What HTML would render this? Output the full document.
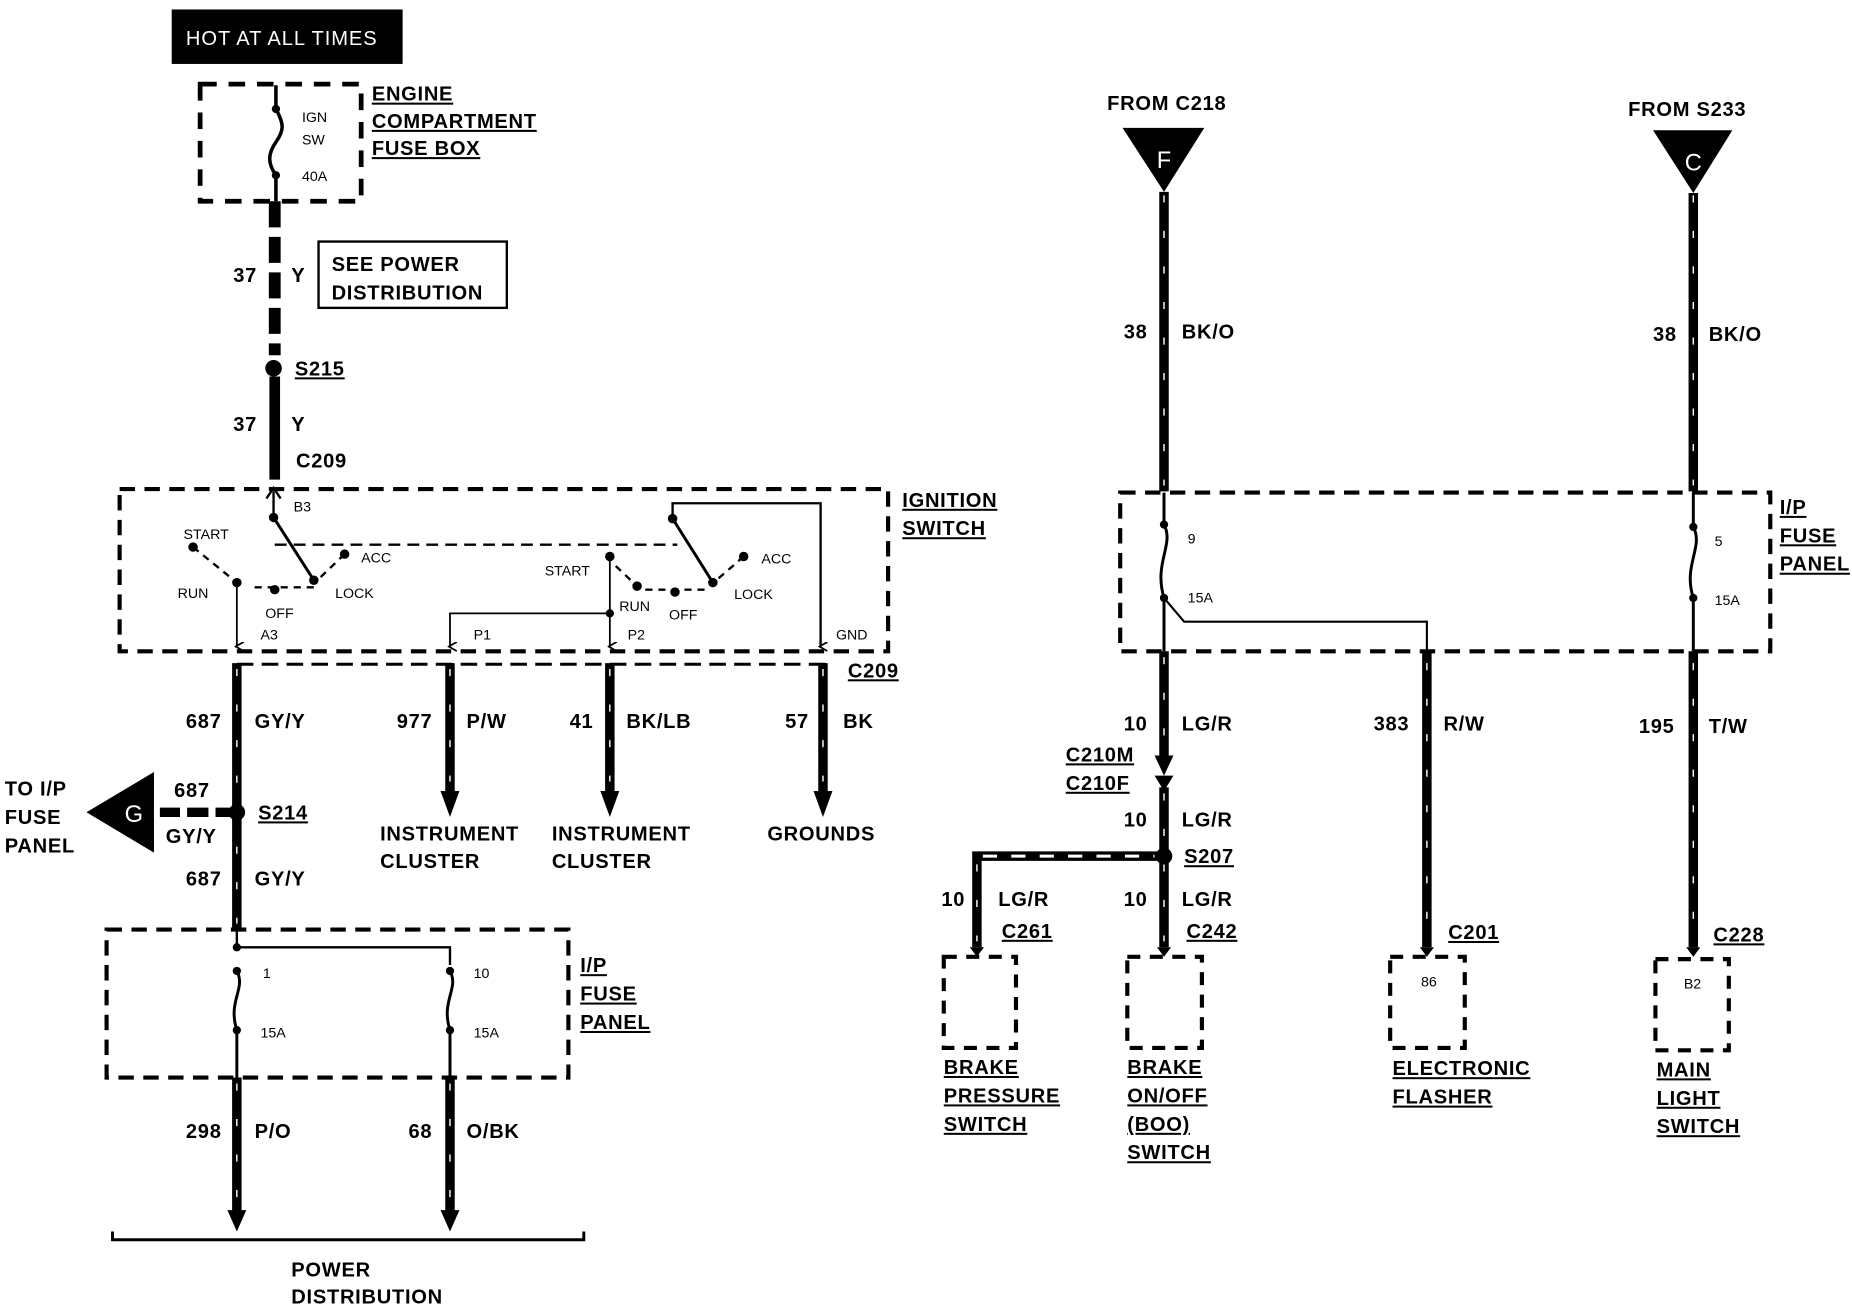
<!DOCTYPE html>
<html><head><meta charset="utf-8"><style>
html,body{margin:0;padding:0;background:#fff;}
svg{display:block;}
text{font-family:"Liberation Sans",Arial,sans-serif;fill:#000;}
.b{font-weight:bold;font-size:17px;letter-spacing:0.6px;}
.s{font-size:12px;}
.u{text-decoration:underline;}
</style></head><body>
<svg width="1852" height="1312" viewBox="0 0 1564 1108" xmlns="http://www.w3.org/2000/svg">
<defs>
<marker id="ah" markerWidth="8" markerHeight="8" refX="4" refY="6" orient="auto" markerUnits="userSpaceOnUse"><path d="M0,0 L4,7 L8,0" fill="none" stroke="#000" stroke-width="1.5"/></marker>
</defs>
<g fill="none" stroke="#000">
<rect x="169" y="71" width="136" height="99" stroke-width="4" stroke-dasharray="14 10"/>
<rect x="101" y="413" width="649" height="137" stroke-width="3.5" stroke-dasharray="13 8"/>
<rect x="90" y="785" width="390" height="125" stroke-width="3.5" stroke-dasharray="13 8"/>
<rect x="946" y="416" width="549" height="134" stroke-width="3.5" stroke-dasharray="13 8"/>
<rect x="797" y="808" width="61" height="77" stroke-width="3.5" stroke-dasharray="11 8"/>
<rect x="952" y="808" width="63" height="77" stroke-width="3.5" stroke-dasharray="11 8"/>
<rect x="1174" y="808" width="63" height="77" stroke-width="3.5" stroke-dasharray="11 8"/>
<rect x="1398" y="810" width="62" height="77" stroke-width="3.5" stroke-dasharray="11 8"/>
<rect x="269" y="204" width="159" height="56" stroke-width="2"/>
<path d="M233,72 V92 C240,105 240,110 233,120 C226,130 226,138 233,148 V170" stroke-width="3"/>
<path d="M232,170 V300" stroke-width="10" stroke-dasharray="22 8"/>
<path d="M232,318 V405" stroke-width="9"/>
<path d="M231,437 V415" stroke-width="2"/>
<path d="M225,421 L231,412 L237,421" stroke-width="2"/>
<path d="M231,437 L265,490" stroke-width="2.5"/>
<path d="M232,460 H572" stroke-width="2" stroke-dasharray="10 6"/>
<path d="M200,492 V546" stroke-width="1.5" marker-end="url(#ah)"/>
<path d="M163,462 L200,492 M291,468 L268,490 M215,496 L265,496" stroke-width="2" stroke-dasharray="6 5"/>
<path d="M568,438 V425 H693 V546" stroke-width="2" marker-end="url(#ah)"/>
<path d="M568,438 L602,492" stroke-width="2.5"/>
<path d="M515,470 V546" stroke-width="1.5" marker-end="url(#ah)"/>
<path d="M515,518 H380 V546" stroke-width="1.5" marker-end="url(#ah)"/>
<path d="M520,478 L538,495 M628,470 L605,490 M545,498 L600,498" stroke-width="2" stroke-dasharray="6 5"/>
<path d="M200,561 H700" stroke-width="2.5" stroke-dasharray="14 7"/>
<path d="M200,560 V785 M380,560 V670 M515,560 V670 M695,560 V670" stroke-width="8"/>
<path d="M200,910 V1025 M380,910 V1025" stroke-width="8"/>
<path d="M200,785 V800 H380 V815" stroke-width="2"/>
<path d="M200,820 C208,835 192,845 200,870 M380,820 C388,835 372,845 380,870" stroke-width="2.5"/>
<path d="M200,870 V910 M380,870 V910" stroke-width="2.5"/>
<path d="M200,686 H135" stroke-width="8" stroke-dasharray="18 6"/>
<path d="M95,1040 V1047 H493 V1040" stroke-width="2.5"/>
<path d="M983,162 V415 M1430,163 V415" stroke-width="8"/>
<path d="M983,416 V443 M983,505 V550 M1430,416 V445 M1430,505 V550" stroke-width="2.5"/>
<path d="M983,443 C992,460 974,475 983,505 M1430,445 C1439,462 1421,477 1430,505" stroke-width="2.5"/>
<path d="M983,505 L1000,525 H1205 V550" stroke-width="1.8"/>
<path d="M983,550 V640 M983,665 V800 M1205,550 V800 M1430,550 V800" stroke-width="8"/>
<path d="M983,723 H825 V800" stroke-width="8"/>
</g>
<g stroke="#fff" stroke-width="1.2" fill="none">
<path d="M983,165 V410 M1430,165 V410 M983,555 V640 M983,670 V715 M983,730 V795 M1205,560 V795 M1430,560 V795 M200,565 V780 M380,565 V660 M515,565 V660 M695,565 V660 M200,915 V1015 M380,915 V1015 M825,730 V795" stroke-dasharray="6 24"/>
<path d="M830,723 H975" stroke-width="2.5" stroke-dasharray="12 12"/>
</g>
<g fill="#000">
<polygon points="372,668 388,668 380,690"/>
<polygon points="507,668 523,668 515,690"/>
<polygon points="687,668 703,668 695,690"/>
<polygon points="192,1022 208,1022 200,1040"/>
<polygon points="372,1022 388,1022 380,1040"/>
<polygon points="975,638 991,638 983,655"/>
<polygon points="975,655 991,655 983,668"/>
<polygon points="948,108 1017,108 983,162"/>
<polygon points="1396,110 1463,110 1430,163"/>
<polygon points="73,686 130,652 130,720"/>
<circle cx="231" cy="311" r="7"/><circle cx="200" cy="686" r="7"/><circle cx="983" cy="723" r="7"/>
<circle cx="233" cy="92" r="3.5"/><circle cx="233" cy="148" r="3.5"/>
<circle cx="231" cy="437" r="4"/><circle cx="163" cy="462" r="4"/><circle cx="291" cy="468" r="4"/><circle cx="200" cy="492" r="4"/><circle cx="232" cy="498" r="4"/><circle cx="265" cy="490" r="4"/>
<circle cx="568" cy="438" r="4"/><circle cx="515" cy="470" r="4"/><circle cx="628" cy="470" r="4"/><circle cx="538" cy="495" r="4"/><circle cx="570" cy="500" r="4"/><circle cx="602" cy="492" r="4"/><circle cx="515" cy="518" r="3.5"/>
<circle cx="200" cy="800" r="3.5"/><circle cx="200" cy="820" r="3.5"/><circle cx="200" cy="870" r="3.5"/><circle cx="380" cy="820" r="3.5"/><circle cx="380" cy="870" r="3.5"/>
<circle cx="983" cy="443" r="3.5"/><circle cx="983" cy="505" r="3.5"/><circle cx="1430" cy="445" r="3.5"/><circle cx="1430" cy="505" r="3.5"/>
<rect x="145" y="8" width="195" height="46"/>
<path d="M819,800 L825,808 L831,800 Z M977,800 L983,808 L989,800 Z M1199,800 L1205,808 L1211,800 Z M1424,800 L1430,808 L1436,800 Z"/>
</g>
<text x="157" y="38" style="fill:#fff;font-size:17px;letter-spacing:0.8px;">HOT AT ALL TIMES</text>
<text x="983" y="142" text-anchor="middle" style="fill:#fff;font-size:20px;">F</text>
<text x="1430" y="144" text-anchor="middle" style="fill:#fff;font-size:20px;">C</text>
<text x="113" y="694" text-anchor="middle" style="fill:#fff;font-size:20px;">G</text>
<g class="s">
<text x="255" y="103">IGN</text><text x="255" y="122">SW</text><text x="255" y="153">40A</text>
<text x="248" y="432">B3</text><text x="155" y="455">START</text><text x="305" y="475">ACC</text><text x="150" y="505">RUN</text><text x="224" y="522">OFF</text><text x="283" y="505">LOCK</text><text x="220" y="540">A3</text>
<text x="460" y="486">START</text><text x="523" y="516">RUN</text><text x="565" y="523">OFF</text><text x="620" y="506">LOCK</text><text x="643" y="476">ACC</text>
<text x="400" y="540">P1</text><text x="530" y="540">P2</text><text x="706" y="540">GND</text>
<text x="222" y="826">1</text><text x="400" y="826">10</text><text x="220" y="876">15A</text><text x="400" y="876">15A</text>
<text x="1003" y="459">9</text><text x="1003" y="509">15A</text><text x="1448" y="461">5</text><text x="1448" y="511">15A</text>
<text x="1200" y="833">86</text><text x="1422" y="835">B2</text>
</g>
<g class="b">
<text x="314" y="85" class="u">ENGINE</text><text x="314" y="108" class="u">COMPARTMENT</text><text x="314" y="131" class="u">FUSE BOX</text>
<text x="280" y="229">SEE POWER</text><text x="280" y="253">DISTRIBUTION</text>
<text x="197" y="238">37</text><text x="246" y="238">Y</text>
<text x="249" y="317" class="u">S215</text>
<text x="197" y="364">37</text><text x="246" y="364">Y</text>
<text x="250" y="395">C209</text>
<text x="762" y="428" class="u">IGNITION</text><text x="762" y="452" class="u">SWITCH</text>
<text x="716" y="572" class="u">C209</text>
<text x="157" y="615">687</text><text x="215" y="615">GY/Y</text>
<text x="335" y="615">977</text><text x="394" y="615">P/W</text>
<text x="481" y="615">41</text><text x="529" y="615">BK/LB</text>
<text x="663" y="615">57</text><text x="712" y="615">BK</text>
<text x="321" y="710">INSTRUMENT</text><text x="321" y="733">CLUSTER</text>
<text x="466" y="710">INSTRUMENT</text><text x="466" y="733">CLUSTER</text>
<text x="648" y="710">GROUNDS</text>
<text x="4" y="672">TO I/P</text><text x="4" y="696">FUSE</text><text x="4" y="720">PANEL</text>
<text x="147" y="673">687</text><text x="140" y="712">GY/Y</text>
<text x="218" y="692" class="u">S214</text>
<text x="157" y="748">687</text><text x="215" y="748">GY/Y</text>
<text x="490" y="821" class="u">I/P</text><text x="490" y="845" class="u">FUSE</text><text x="490" y="869" class="u">PANEL</text>
<text x="157" y="961">298</text><text x="215" y="961">P/O</text>
<text x="345" y="961">68</text><text x="394" y="961">O/BK</text>
<text x="246" y="1078">POWER</text><text x="246" y="1101">DISTRIBUTION</text>
<text x="935" y="93">FROM C218</text><text x="1375" y="98">FROM S233</text>
<text x="949" y="286">38</text><text x="998" y="286">BK/O</text>
<text x="1396" y="288">38</text><text x="1443" y="288">BK/O</text>
<text x="1503" y="434" class="u">I/P</text><text x="1503" y="458" class="u">FUSE</text><text x="1503" y="482" class="u">PANEL</text>
<text x="949" y="617">10</text><text x="998" y="617">LG/R</text>
<text x="900" y="643" class="u">C210M</text><text x="900" y="667" class="u">C210F</text>
<text x="949" y="698">10</text><text x="998" y="698">LG/R</text>
<text x="1000" y="729" class="u">S207</text>
<text x="795" y="765">10</text><text x="843" y="765">LG/R</text><text x="846" y="792" class="u">C261</text>
<text x="949" y="765">10</text><text x="998" y="765">LG/R</text><text x="1002" y="792" class="u">C242</text>
<text x="1160" y="617">383</text><text x="1219" y="617">R/W</text><text x="1223" y="793" class="u">C201</text>
<text x="1384" y="619">195</text><text x="1443" y="619">T/W</text><text x="1447" y="795" class="u">C228</text>
<text x="797" y="907" class="u">BRAKE</text><text x="797" y="931" class="u">PRESSURE</text><text x="797" y="955" class="u">SWITCH</text>
<text x="952" y="907" class="u">BRAKE</text><text x="952" y="931" class="u">ON/OFF</text><text x="952" y="955" class="u">(BOO)</text><text x="952" y="979" class="u">SWITCH</text>
<text x="1176" y="908" class="u">ELECTRONIC</text><text x="1176" y="932" class="u">FLASHER</text>
<text x="1399" y="909" class="u">MAIN</text><text x="1399" y="933" class="u">LIGHT</text><text x="1399" y="957" class="u">SWITCH</text>
</g>
</svg>
</body></html>
